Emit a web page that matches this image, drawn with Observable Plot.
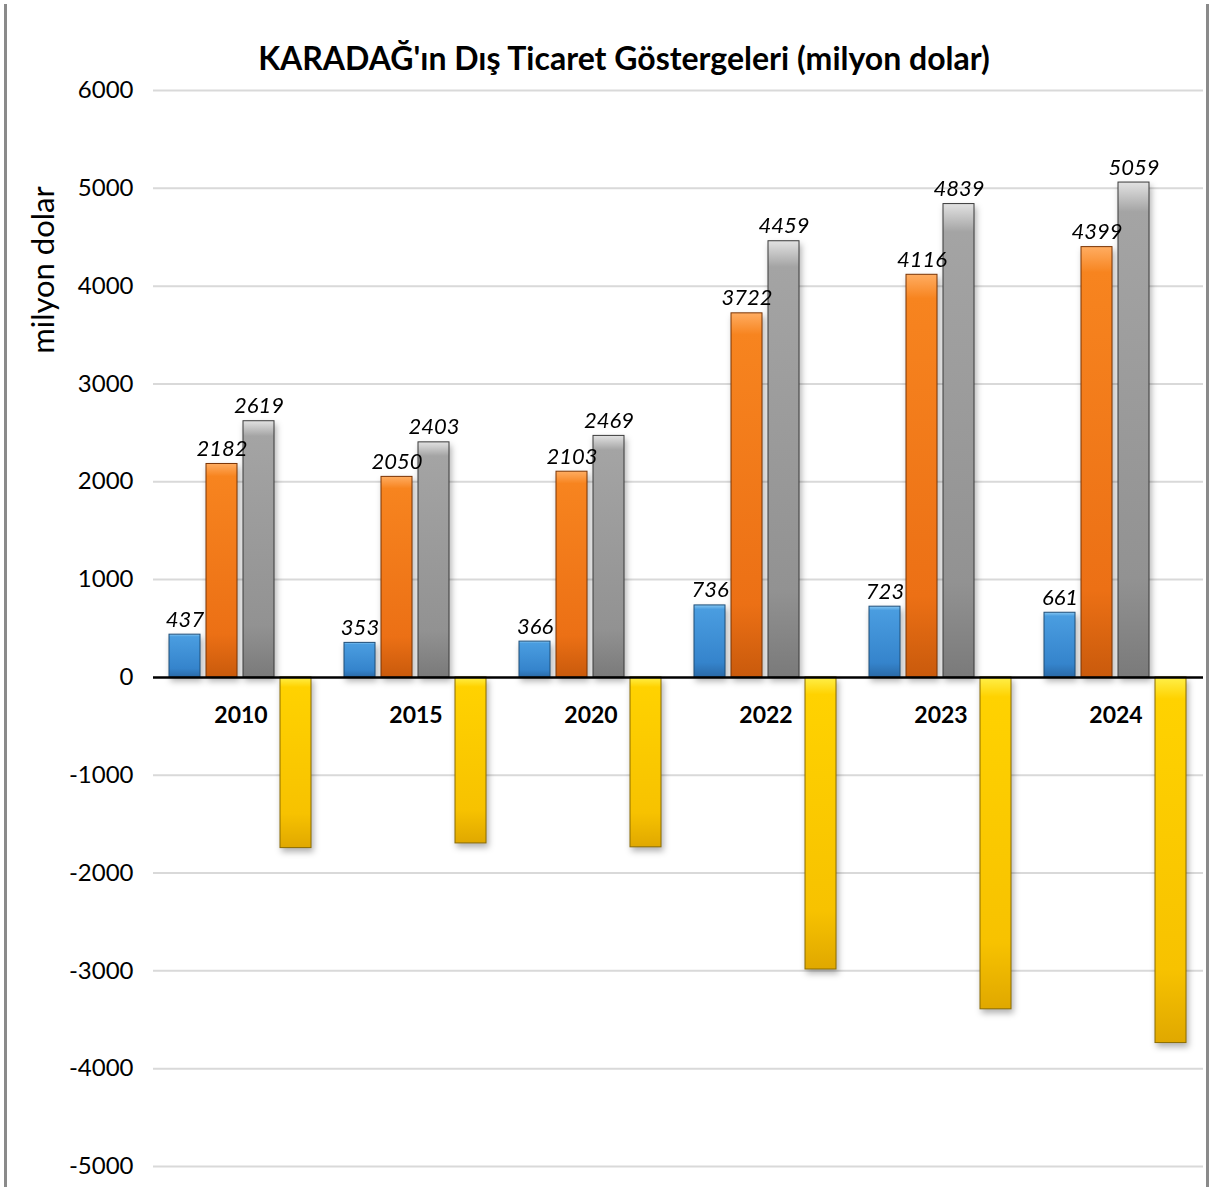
<!DOCTYPE html>
<html><head><meta charset="utf-8">
<script src="https://cdn.jsdelivr.net/npm/d3@7"></script>
<script src="https://cdn.jsdelivr.net/npm/@observablehq/plot@0.6"></script>
<style>
html,body{margin:0;padding:0;background:#fff;overflow:hidden}
#frame{position:relative;width:1215px;height:1187px;}
#frame::before{content:"";position:absolute;left:4px;top:4px;bottom:0;width:3px;background:#8a8a8a}
#frame::after{content:"";position:absolute;right:6px;top:4px;bottom:0;width:3px;background:#8a8a8a}
#title{position:absolute;left:624px;top:38px;transform:translateX(-50%);white-space:nowrap;font:bold 32px Lato, sans-serif;color:#000}
#ylabel{position:absolute;left:42px;top:270px;transform:translate(-50%,-50%) rotate(-90deg);font:31px Lato, sans-serif;white-space:nowrap;color:#000}
#chart{position:absolute;left:0;top:74px}
</style></head>
<body><div id="frame">
<div id="chart"></div>
<div id="title">KARADAĞ'ın Dış Ticaret Göstergeleri (milyon dolar)</div>
<div id="ylabel">milyon dolar</div>
</div>
<script>
// ---- data ----
const years = ["2010", "2015", "2020", "2022", "2023", "2024"];
const seriesNames = ["İhracat", "İthalat", "Dış Ticaret Hacmi", "Dış Ticaret Dengesi"];
const exportsVal = [437, 353, 366, 736, 723, 661];
const importsVal = [2182, 2050, 2103, 3722, 4116, 4399];
const volumeVal = [2619, 2403, 2469, 4459, 4839, 5059];
const balanceVal = [-1745, -1697, -1737, -2986, -3393, -3738];
const yTicks = [6000, 5000, 4000, 3000, 2000, 1000, 0, -1000, -2000, -3000, -4000, -5000];

const seriesValues = [exportsVal, importsVal, volumeVal, balanceVal];
const rows = years.flatMap((y, i) => seriesNames.map((s, k) => ({year: y, series: s, value: seriesValues[k][i]})));

const look = {
  "İhracat": {id: "gBlue", stops: ["#86c7f2", "#4a9de0", "#3584cc", "#2a6aa8"], stroke: "#1f4e79"},
  "İthalat": {id: "gOrange", stops: ["#ffad62", "#f7841f", "#ec7015", "#c95a0c"], stroke: "#7a3404"},
  "Dış Ticaret Hacmi": {id: "gGray", stops: ["#e2e2e2", "#a4a4a4", "#929292", "#7a7a7a"], stroke: "#3a3a3a"},
  "Dış Ticaret Dengesi": {id: "gYellow", stops: ["#fff04a", "#ffd200", "#f7c200", "#e0a800"], stroke: "#8c6d00"}
};

const chart = Plot.plot({
  width: 1215,
  height: 1110,
  marginLeft: 150,
  marginRight: 10,
  marginTop: 16,
  marginBottom: 18,
  style: {fontFamily: "Lato, sans-serif", fontSize: "24px", color: "#000", background: "transparent"},
  fx: {domain: years, padding: 0, axis: null},
  x: {domain: seriesNames, paddingInner: 0.15, paddingOuter: 0.41, axis: null},
  y: {domain: [-5000, 6000], ticks: yTicks, tickFormat: d => String(d), label: null, tickSize: 0, tickPadding: 20},
  marks: [
    Plot.ruleY(yTicks.filter(d => d !== 0), {stroke: "#d9d9d9", strokeWidth: 2}),
    ...seriesNames.map(s => Plot.barY(rows.filter(r => r.series === s), {
      fx: "year", x: "series", y: "value",
      fill: `url(#${look[s].id})`, stroke: look[s].stroke, strokeWidth: 1
    })),
    Plot.ruleY([0], {stroke: "#000", strokeWidth: 2.5}),
    Plot.text(rows.filter(r => r.value > 0), {
      fx: "year", x: "series", y: "value", text: d => String(d.value),
      dy: -15, fontStyle: "italic", fontSize: 22, fill: "#000"
    }),
    Plot.text(years.map(y => ({year: y})), {
      fx: "year", y: () => 0, text: "year", dy: 38, fontWeight: "bold", fontSize: 23, fill: "#000"
    })
  ]
});

// gradient definitions for the beveled bar look
const ns = "http://www.w3.org/2000/svg";
const defs = document.createElementNS(ns, "defs");
for (const s of seriesNames) {
  const g = document.createElementNS(ns, "linearGradient");
  g.setAttribute("id", look[s].id);
  g.setAttribute("x1", "0"); g.setAttribute("y1", "0");
  g.setAttribute("x2", "0"); g.setAttribute("y2", "1");
  const offs = [0, 0.06, 0.8, 1];
  look[s].stops.forEach((c, i) => {
    const st = document.createElementNS(ns, "stop");
    st.setAttribute("offset", offs[i]);
    st.setAttribute("stop-color", c);
    g.appendChild(st);
  });
  defs.appendChild(g);
}
chart.insertBefore(defs, chart.firstChild);
chart.querySelectorAll('g[aria-label="bar"]').forEach(g => {
  g.style.filter = "drop-shadow(2px 4px 3px rgba(0,0,0,0.3))";
});
document.getElementById("chart").appendChild(chart);
</script>
</body></html>
